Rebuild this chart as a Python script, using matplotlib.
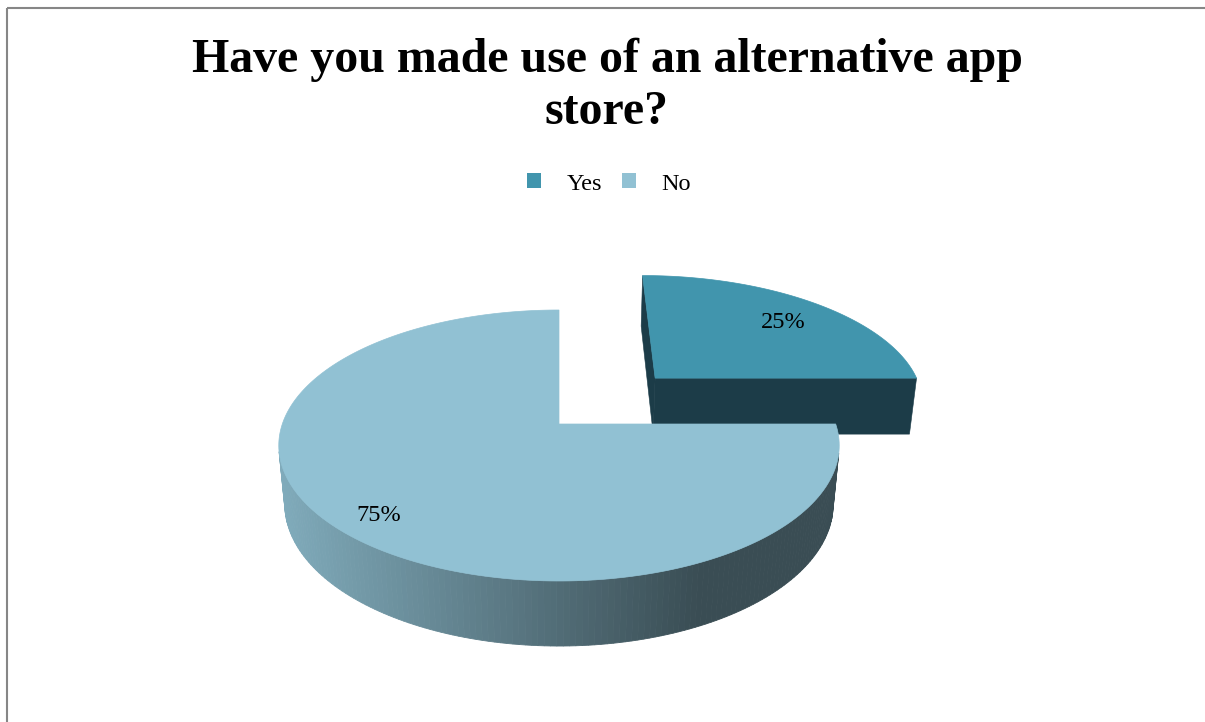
import numpy as np
import matplotlib.pyplot as plt
from matplotlib.patches import Polygon, Rectangle, Patch
from matplotlib.colors import to_rgb

# survey answers
labels = ['Yes', 'No']
values = [25, 75]
top_colors = ['#4195ad', '#91c1d3']
side_colors = [('#1c3c48', '#1c3c48'), ('#80abbb', '#3a4d54')]
explode = [0.52, 0.0]

title = 'Have you made use of an alternative app\nstore?'

# simple perspective camera for the tilted pie (pixel space)
ELEV = np.radians(28.7)
DIST = 5.53
FOCAL = 1521.0
FOCAL_X = 1530.0
CX, CY = 559.0, 424.0
THICK = 0.2466
CAM = np.array([0.0, -DIST * np.cos(ELEV), DIST * np.sin(ELEV)])


def project(x, y, z):
    x = np.asarray(x, float)
    y = np.asarray(y, float)
    z = np.asarray(z, float)
    depth = DIST + y * np.cos(ELEV) - z * np.sin(ELEV)
    u = CX + FOCAL_X * x / depth
    v = CY - FOCAL * (y * np.sin(ELEV) + z * np.cos(ELEV)) / depth
    return u, v


def facing(normal, point):
    return np.dot(normal, CAM - np.asarray(point)) > 0


def blend(c1, c2, f):
    a, b = np.array(to_rgb(c1)), np.array(to_rgb(c2))
    return tuple(a + (b - a) * np.clip(f, 0, 1))


fig = plt.figure(figsize=(12.05, 7.22), dpi=100)
ax = fig.add_axes([0, 0, 1, 1])
ax.set_xlim(0, 1205)
ax.set_ylim(722, 0)
ax.axis('off')

# chart area border
ax.add_patch(Rectangle((7, 8), 1300, 800, fill=False, edgecolor='#868686', lw=1.5))

total = float(sum(values))
fracs = np.array(values) / total
starts = 90 - 360 * np.concatenate([[0], np.cumsum(fracs)[:-1]])
ends = starts - 360 * fracs
mids = (starts + ends) / 2

# back slices first
order = np.argsort(-np.sin(np.radians(mids)))
for i in order:
    t0, t1 = np.radians(starts[i]), np.radians(ends[i])
    tm = np.radians(mids[i])
    ox, oy = explode[i] * np.cos(tm), explode[i] * np.sin(tm)
    t = np.linspace(t0, t1, 240)
    ex, ey = ox + np.cos(t), oy + np.sin(t)

    # outer curved wall, shaded left to right
    ut, vt = project(ex, ey, 0)
    ub, vb = project(ex, ey, -THICK)
    umin, umax = ut.min(), ut.max()
    for k in range(len(t) - 1):
        tk = (t[k] + t[k + 1]) / 2
        pt = (ox + np.cos(tk), oy + np.sin(tk), -THICK / 2)
        if not facing(np.array([np.cos(tk), np.sin(tk), 0]), pt):
            continue
        f = ((ut[k] + ut[k + 1]) / 2 - umin) / (umax - umin) / 0.75
        col = blend(side_colors[i][0], side_colors[i][1], f)
        quad = [(ut[k], vt[k]), (ut[k + 1], vt[k + 1]),
                (ub[k + 1], vb[k + 1]), (ub[k], vb[k])]
        ax.add_patch(Polygon(quad, closed=True, facecolor=col,
                             edgecolor=col, lw=0.6))

    # flat radial walls
    for ang, sgn in ((t0, 1), (t1, -1)):
        normal = np.array([-np.sin(ang), np.cos(ang), 0]) * sgn
        mid_pt = (ox + 0.5 * np.cos(ang), oy + 0.5 * np.sin(ang), -THICK / 2)
        if not facing(normal, mid_pt):
            continue
        px = [ox, ox + np.cos(ang), ox + np.cos(ang), ox]
        py = [oy, oy + np.sin(ang), oy + np.sin(ang), oy]
        pz = [0, 0, -THICK, -THICK]
        u, v = project(px, py, pz)
        ax.add_patch(Polygon(np.column_stack([u, v]), closed=True,
                             facecolor=side_colors[i][1],
                             edgecolor=side_colors[i][1], lw=0.4))

    # top face
    cu, cv = project(ox, oy, 0)
    poly = np.vstack([[cu, cv], np.column_stack([ut, vt])])
    ax.add_patch(Polygon(poly, closed=True, facecolor=top_colors[i],
                         edgecolor=top_colors[i], lw=0.5))

    # percentage label
    lu, lv = project(ox + 0.82 * np.cos(tm), oy + 0.82 * np.sin(tm), 0)
    ax.annotate(f'{fracs[i] * 100:.0f}%', (lu, lv), xytext=(-4, -7),
                textcoords='offset pixels', ha='center', va='center',
                fontsize=17.5, family='Liberation Serif', color='black')

ax.text(607, 38, title, ha='center', va='top', fontsize=34.5,
        fontweight='bold', family='Liberation Serif', linespacing=1.22)

handles = [Patch(facecolor=c, edgecolor='none') for c in top_colors]
ax.legend(handles, labels, loc='center', bbox_to_anchor=(609 / 1205, 1 - 184 / 722),
          ncol=2, frameon=False, handlelength=0.57, handleheight=0.57,
          handletextpad=1.05, columnspacing=0.8,
          prop={'family': 'Liberation Serif', 'size': 17.5})

fig.savefig('out.png', dpi=100)
